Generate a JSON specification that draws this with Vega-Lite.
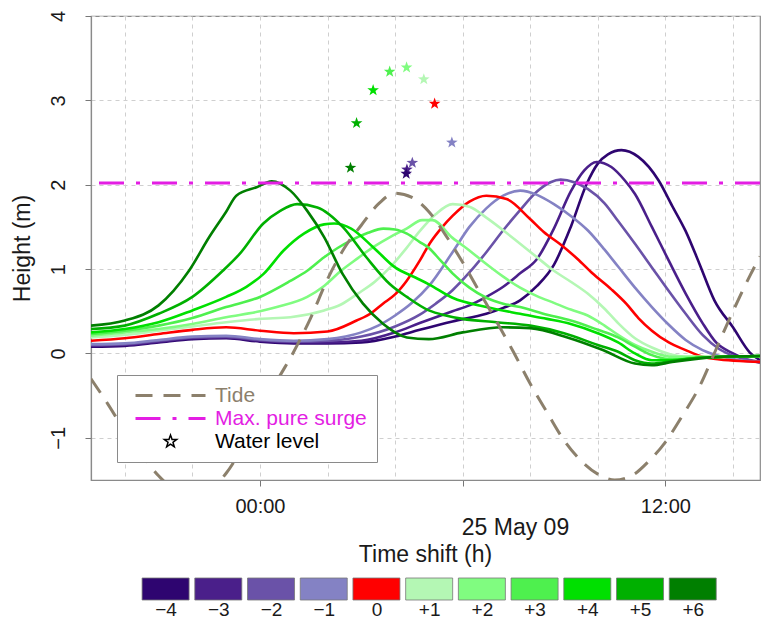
{
  "$schema": "https://vega.github.io/schema/vega-lite/v6.json",
  "padding": {"left": 10, "top": 9, "right": 0, "bottom": 0},
  "spacing": 3,
  "config": {"font": "Liberation Sans", "view": {"stroke": "#8a8a8a", "strokeWidth": 1.2}},
  "datasets": {
    "surge": [
      {"s":"−4","h":-5,"v":0.08},{"s":"−4","h":-4,"v":0.09},{"s":"−4","h":-3,"v":0.13},{"s":"−4","h":-2,"v":0.17},{"s":"−4","h":-1,"v":0.18},{"s":"−4","h":0,"v":0.14},{"s":"−4","h":1,"v":0.12},{"s":"−4","h":2,"v":0.12},{"s":"−4","h":3,"v":0.13},{"s":"−4","h":4,"v":0.2},{"s":"−4","h":4.73,"v":0.28},{"s":"−4","h":5.7,"v":0.38},{"s":"−4","h":6.7,"v":0.47},{"s":"−4","h":7.2,"v":0.54},{"s":"−4","h":7.7,"v":0.63},{"s":"−4","h":8.2,"v":0.8},{"s":"−4","h":8.7,"v":1.05},{"s":"−4","h":9.2,"v":1.5},{"s":"−4","h":9.66,"v":2.0},{"s":"−4","h":10.0,"v":2.25},{"s":"−4","h":10.3,"v":2.36},{"s":"−4","h":10.7,"v":2.41},{"s":"−4","h":11.2,"v":2.33},{"s":"−4","h":11.8,"v":2.05},{"s":"−4","h":12.2,"v":1.75},{"s":"−4","h":12.6,"v":1.45},{"s":"−4","h":13.0,"v":1.07},{"s":"−4","h":13.45,"v":0.63},{"s":"−4","h":14.0,"v":0.31},{"s":"−4","h":14.5,"v":0.01},{"s":"−4","h":14.8,"v":-0.08},
      {"s":"−3","h":-5,"v":0.09},{"s":"−3","h":-4,"v":0.1},{"s":"−3","h":-3,"v":0.14},{"s":"−3","h":-2,"v":0.18},{"s":"−3","h":-1,"v":0.19},{"s":"−3","h":0,"v":0.15},{"s":"−3","h":1,"v":0.13},{"s":"−3","h":2,"v":0.13},{"s":"−3","h":3,"v":0.15},{"s":"−3","h":4,"v":0.25},{"s":"−3","h":4.73,"v":0.36},{"s":"−3","h":5.7,"v":0.5},{"s":"−3","h":6.2,"v":0.57},{"s":"−3","h":6.7,"v":0.67},{"s":"−3","h":7.2,"v":0.79},{"s":"−3","h":7.7,"v":0.95},{"s":"−3","h":8.2,"v":1.12},{"s":"−3","h":8.7,"v":1.48},{"s":"−3","h":9.2,"v":1.92},{"s":"−3","h":9.6,"v":2.17},{"s":"−3","h":9.96,"v":2.27},{"s":"−3","h":10.4,"v":2.21},{"s":"−3","h":10.8,"v":2.05},{"s":"−3","h":11.1,"v":1.89},{"s":"−3","h":11.6,"v":1.5},{"s":"−3","h":12.1,"v":1.1},{"s":"−3","h":12.6,"v":0.71},{"s":"−3","h":13.1,"v":0.36},{"s":"−3","h":13.5,"v":0.13},{"s":"−3","h":14.0,"v":0.0},{"s":"−3","h":14.4,"v":-0.07},{"s":"−3","h":14.8,"v":-0.11},
      {"s":"−2","h":-5,"v":0.1},{"s":"−2","h":-4,"v":0.11},{"s":"−2","h":-3,"v":0.15},{"s":"−2","h":-2,"v":0.19},{"s":"−2","h":-1,"v":0.2},{"s":"−2","h":0,"v":0.16},{"s":"−2","h":1,"v":0.14},{"s":"−2","h":2,"v":0.15},{"s":"−2","h":3,"v":0.2},{"s":"−2","h":4,"v":0.32},{"s":"−2","h":4.73,"v":0.46},{"s":"−2","h":5.2,"v":0.59},{"s":"−2","h":5.7,"v":0.75},{"s":"−2","h":6.2,"v":0.96},{"s":"−2","h":6.7,"v":1.2},{"s":"−2","h":7.2,"v":1.46},{"s":"−2","h":7.7,"v":1.7},{"s":"−2","h":8.2,"v":1.92},{"s":"−2","h":8.6,"v":2.03},{"s":"−2","h":8.9,"v":2.06},{"s":"−2","h":9.3,"v":2.03},{"s":"−2","h":9.7,"v":1.95},{"s":"−2","h":10.2,"v":1.78},{"s":"−2","h":10.6,"v":1.57},{"s":"−2","h":11.1,"v":1.3},{"s":"−2","h":11.6,"v":1.02},{"s":"−2","h":12.1,"v":0.74},{"s":"−2","h":12.6,"v":0.47},{"s":"−2","h":13.1,"v":0.22},{"s":"−2","h":13.6,"v":0.05},{"s":"−2","h":14.1,"v":-0.04},{"s":"−2","h":14.8,"v":-0.1},
      {"s":"−1","h":-5,"v":0.11},{"s":"−1","h":-4,"v":0.12},{"s":"−1","h":-3,"v":0.16},{"s":"−1","h":-2,"v":0.2},{"s":"−1","h":-1,"v":0.21},{"s":"−1","h":0,"v":0.17},{"s":"−1","h":1,"v":0.15},{"s":"−1","h":2,"v":0.17},{"s":"−1","h":3,"v":0.25},{"s":"−1","h":3.5,"v":0.33},{"s":"−1","h":4,"v":0.45},{"s":"−1","h":4.5,"v":0.6},{"s":"−1","h":5.0,"v":0.8},{"s":"−1","h":5.7,"v":1.2},{"s":"−1","h":6.2,"v":1.5},{"s":"−1","h":6.7,"v":1.72},{"s":"−1","h":7.2,"v":1.87},{"s":"−1","h":7.7,"v":1.93},{"s":"−1","h":8.2,"v":1.88},{"s":"−1","h":8.7,"v":1.77},{"s":"−1","h":9.2,"v":1.63},{"s":"−1","h":9.7,"v":1.46},{"s":"−1","h":10.2,"v":1.23},{"s":"−1","h":10.6,"v":1.03},{"s":"−1","h":11.1,"v":0.78},{"s":"−1","h":11.6,"v":0.55},{"s":"−1","h":12.1,"v":0.34},{"s":"−1","h":12.6,"v":0.16},{"s":"−1","h":13.1,"v":0.04},{"s":"−1","h":13.6,"v":-0.03},{"s":"−1","h":14.2,"v":-0.08},{"s":"−1","h":14.8,"v":-0.1},
      {"s":"0","h":-5,"v":0.15},{"s":"0","h":-4,"v":0.18},{"s":"0","h":-3,"v":0.23},{"s":"0","h":-2,"v":0.28},{"s":"0","h":-1,"v":0.31},{"s":"0","h":0,"v":0.27},{"s":"0","h":1,"v":0.24},{"s":"0","h":2,"v":0.26},{"s":"0","h":2.86,"v":0.39},{"s":"0","h":3.3,"v":0.48},{"s":"0","h":3.64,"v":0.59},{"s":"0","h":4.0,"v":0.7},{"s":"0","h":4.34,"v":0.86},{"s":"0","h":4.73,"v":1.1},{"s":"0","h":5.02,"v":1.3},{"s":"0","h":5.4,"v":1.5},{"s":"0","h":5.7,"v":1.63},{"s":"0","h":6.2,"v":1.8},{"s":"0","h":6.7,"v":1.87},{"s":"0","h":7.3,"v":1.83},{"s":"0","h":7.98,"v":1.6},{"s":"0","h":8.4,"v":1.44},{"s":"0","h":8.87,"v":1.3},{"s":"0","h":9.4,"v":1.12},{"s":"0","h":9.84,"v":0.95},{"s":"0","h":10.4,"v":0.76},{"s":"0","h":10.84,"v":0.59},{"s":"0","h":11.2,"v":0.42},{"s":"0","h":11.6,"v":0.27},{"s":"0","h":12.1,"v":0.13},{"s":"0","h":12.6,"v":0.04},{"s":"0","h":13.1,"v":-0.04},{"s":"0","h":13.6,"v":-0.07},{"s":"0","h":14.2,"v":-0.09},{"s":"0","h":14.8,"v":-0.1},
      {"s":"+1","h":-5,"v":0.19},{"s":"+1","h":-4,"v":0.22},{"s":"+1","h":-3,"v":0.27},{"s":"+1","h":-2,"v":0.32},{"s":"+1","h":-1,"v":0.37},{"s":"+1","h":0,"v":0.41},{"s":"+1","h":0.9,"v":0.43},{"s":"+1","h":1.9,"v":0.51},{"s":"+1","h":2.4,"v":0.58},{"s":"+1","h":2.9,"v":0.71},{"s":"+1","h":3.4,"v":0.85},{"s":"+1","h":3.85,"v":1.02},{"s":"+1","h":4.3,"v":1.23},{"s":"+1","h":4.73,"v":1.45},{"s":"+1","h":5.2,"v":1.65},{"s":"+1","h":5.7,"v":1.77},{"s":"+1","h":6.2,"v":1.74},{"s":"+1","h":6.7,"v":1.61},{"s":"+1","h":7.2,"v":1.46},{"s":"+1","h":7.7,"v":1.3},{"s":"+1","h":8.2,"v":1.14},{"s":"+1","h":8.7,"v":0.98},{"s":"+1","h":9.2,"v":0.85},{"s":"+1","h":9.7,"v":0.71},{"s":"+1","h":10.2,"v":0.53},{"s":"+1","h":10.6,"v":0.36},{"s":"+1","h":11.1,"v":0.18},{"s":"+1","h":11.6,"v":0.07},{"s":"+1","h":12.6,"v":-0.04},{"s":"+1","h":13.6,"v":-0.04},{"s":"+1","h":14.8,"v":-0.03},
      {"s":"+2","h":-5,"v":0.21},{"s":"+2","h":-4,"v":0.25},{"s":"+2","h":-3,"v":0.29},{"s":"+2","h":-2,"v":0.35},{"s":"+2","h":-1,"v":0.43},{"s":"+2","h":0,"v":0.5},{"s":"+2","h":0.5,"v":0.55},{"s":"+2","h":1.4,"v":0.67},{"s":"+2","h":1.9,"v":0.8},{"s":"+2","h":2.4,"v":0.98},{"s":"+2","h":2.9,"v":1.13},{"s":"+2","h":3.35,"v":1.26},{"s":"+2","h":3.85,"v":1.38},{"s":"+2","h":4.34,"v":1.48},{"s":"+2","h":4.8,"v":1.58},{"s":"+2","h":5.1,"v":1.58},{"s":"+2","h":5.7,"v":1.37},{"s":"+2","h":6.2,"v":1.22},{"s":"+2","h":6.7,"v":1.06},{"s":"+2","h":7.2,"v":0.91},{"s":"+2","h":7.7,"v":0.78},{"s":"+2","h":8.2,"v":0.68},{"s":"+2","h":8.7,"v":0.6},{"s":"+2","h":9.2,"v":0.52},{"s":"+2","h":9.7,"v":0.45},{"s":"+2","h":10.2,"v":0.33},{"s":"+2","h":10.6,"v":0.22},{"s":"+2","h":11.1,"v":0.1},{"s":"+2","h":11.6,"v":0.02},{"s":"+2","h":12.2,"v":-0.04},{"s":"+2","h":13.6,"v":-0.04},{"s":"+2","h":14.8,"v":-0.03},
      {"s":"+3","h":-5,"v":0.23},{"s":"+3","h":-4,"v":0.27},{"s":"+3","h":-3,"v":0.33},{"s":"+3","h":-2,"v":0.42},{"s":"+3","h":-1,"v":0.55},{"s":"+3","h":0,"v":0.67},{"s":"+3","h":0.9,"v":0.86},{"s":"+3","h":1.4,"v":0.98},{"s":"+3","h":1.9,"v":1.14},{"s":"+3","h":2.3,"v":1.25},{"s":"+3","h":2.7,"v":1.34},{"s":"+3","h":3.2,"v":1.43},{"s":"+3","h":3.65,"v":1.48},{"s":"+3","h":4.0,"v":1.47},{"s":"+3","h":4.35,"v":1.42},{"s":"+3","h":4.73,"v":1.32},{"s":"+3","h":5.0,"v":1.25},{"s":"+3","h":5.35,"v":1.1},{"s":"+3","h":5.7,"v":0.95},{"s":"+3","h":6.2,"v":0.78},{"s":"+3","h":6.7,"v":0.66},{"s":"+3","h":7.2,"v":0.59},{"s":"+3","h":7.7,"v":0.55},{"s":"+3","h":8.5,"v":0.46},{"s":"+3","h":9.2,"v":0.39},{"s":"+3","h":10.0,"v":0.28},{"s":"+3","h":10.6,"v":0.19},{"s":"+3","h":11.1,"v":0.08},{"s":"+3","h":11.6,"v":-0.02},{"s":"+3","h":12.2,"v":-0.07},{"s":"+3","h":13.0,"v":-0.05},{"s":"+3","h":14.8,"v":-0.03},
      {"s":"+4","h":-5,"v":0.25},{"s":"+4","h":-4,"v":0.29},{"s":"+4","h":-3,"v":0.37},{"s":"+4","h":-2,"v":0.51},{"s":"+4","h":-1,"v":0.67},{"s":"+4","h":-0.4,"v":0.79},{"s":"+4","h":0.1,"v":0.94},{"s":"+4","h":0.7,"v":1.22},{"s":"+4","h":1.3,"v":1.42},{"s":"+4","h":1.9,"v":1.53},{"s":"+4","h":2.2,"v":1.54},{"s":"+4","h":2.7,"v":1.48},{"s":"+4","h":3.35,"v":1.26},{"s":"+4","h":4.0,"v":1.02},{"s":"+4","h":4.6,"v":0.9},{"s":"+4","h":5.0,"v":0.82},{"s":"+4","h":5.7,"v":0.66},{"s":"+4","h":6.7,"v":0.55},{"s":"+4","h":7.7,"v":0.47},{"s":"+4","h":8.5,"v":0.41},{"s":"+4","h":9.2,"v":0.35},{"s":"+4","h":10.0,"v":0.24},{"s":"+4","h":10.6,"v":0.13},{"s":"+4","h":11.1,"v":0.0},{"s":"+4","h":11.6,"v":-0.08},{"s":"+4","h":12.2,"v":-0.08},{"s":"+4","h":13.0,"v":-0.05},{"s":"+4","h":14.8,"v":-0.03},
      {"s":"+5","h":-5,"v":0.29},{"s":"+5","h":-4,"v":0.33},{"s":"+5","h":-3,"v":0.47},{"s":"+5","h":-2,"v":0.67},{"s":"+5","h":-1.1,"v":0.98},{"s":"+5","h":-0.6,"v":1.18},{"s":"+5","h":0.1,"v":1.54},{"s":"+5","h":0.6,"v":1.69},{"s":"+5","h":1.1,"v":1.77},{"s":"+5","h":1.7,"v":1.73},{"s":"+5","h":2.45,"v":1.5},{"s":"+5","h":3.15,"v":1.14},{"s":"+5","h":3.85,"v":0.82},{"s":"+5","h":4.35,"v":0.67},{"s":"+5","h":5.0,"v":0.51},{"s":"+5","h":5.5,"v":0.45},{"s":"+5","h":6.0,"v":0.41},{"s":"+5","h":7.0,"v":0.37},{"s":"+5","h":8.0,"v":0.33},{"s":"+5","h":9.0,"v":0.24},{"s":"+5","h":10.0,"v":0.1},{"s":"+5","h":10.6,"v":0.02},{"s":"+5","h":11.1,"v":-0.08},{"s":"+5","h":11.6,"v":-0.12},{"s":"+5","h":12.2,"v":-0.09},{"s":"+5","h":13.0,"v":-0.05},{"s":"+5","h":14.8,"v":-0.03},
      {"s":"+6","h":-5,"v":0.33},{"s":"+6","h":-4,"v":0.39},{"s":"+6","h":-3,"v":0.57},{"s":"+6","h":-2.1,"v":0.98},{"s":"+6","h":-1.5,"v":1.38},{"s":"+6","h":-1.0,"v":1.68},{"s":"+6","h":-0.7,"v":1.87},{"s":"+6","h":-0.1,"v":1.97},{"s":"+6","h":0.35,"v":2.04},{"s":"+6","h":0.9,"v":1.93},{"s":"+6","h":1.4,"v":1.69},{"s":"+6","h":1.9,"v":1.38},{"s":"+6","h":2.45,"v":0.94},{"s":"+6","h":3.05,"v":0.59},{"s":"+6","h":3.65,"v":0.35},{"s":"+6","h":4.35,"v":0.19},{"s":"+6","h":5.0,"v":0.17},{"s":"+6","h":6.0,"v":0.25},{"s":"+6","h":7.2,"v":0.31},{"s":"+6","h":8.0,"v":0.3},{"s":"+6","h":9.1,"v":0.19},{"s":"+6","h":10.15,"v":0.04},{"s":"+6","h":11.1,"v":-0.12},{"s":"+6","h":11.6,"v":-0.14},{"s":"+6","h":12.2,"v":-0.1},{"s":"+6","h":13.6,"v":-0.04},{"s":"+6","h":14.8,"v":-0.03}
    ],
    "tide": [
      {"kind":"Tide","h":-5,"v":-0.3},{"kind":"Tide","h":-4.5,"v":-0.6},{"kind":"Tide","h":-4,"v":-0.92},{"kind":"Tide","h":-3.5,"v":-1.2},{"kind":"Tide","h":-3,"v":-1.45},{"kind":"Tide","h":-2.5,"v":-1.62},{"kind":"Tide","h":-2,"v":-1.68},{"kind":"Tide","h":-1.5,"v":-1.62},{"kind":"Tide","h":-1,"v":-1.42},{"kind":"Tide","h":-0.5,"v":-1.1},{"kind":"Tide","h":0,"v":-0.72},{"kind":"Tide","h":0.5,"v":-0.33},{"kind":"Tide","h":1,"v":0.02},{"kind":"Tide","h":1.5,"v":0.42},{"kind":"Tide","h":2,"v":0.88},{"kind":"Tide","h":2.5,"v":1.25},{"kind":"Tide","h":3,"v":1.52},{"kind":"Tide","h":3.5,"v":1.77},{"kind":"Tide","h":4,"v":1.9},{"kind":"Tide","h":4.5,"v":1.85},{"kind":"Tide","h":5,"v":1.68},{"kind":"Tide","h":5.5,"v":1.4},{"kind":"Tide","h":6,"v":1.08},{"kind":"Tide","h":6.5,"v":0.73},{"kind":"Tide","h":7,"v":0.38},{"kind":"Tide","h":7.5,"v":0.02},{"kind":"Tide","h":8,"v":-0.36},{"kind":"Tide","h":8.5,"v":-0.7},{"kind":"Tide","h":9,"v":-1.03},{"kind":"Tide","h":9.5,"v":-1.27},{"kind":"Tide","h":10,"v":-1.43},{"kind":"Tide","h":10.5,"v":-1.5},{"kind":"Tide","h":11,"v":-1.45},{"kind":"Tide","h":11.5,"v":-1.28},{"kind":"Tide","h":12,"v":-1.05},{"kind":"Tide","h":12.5,"v":-0.74},{"kind":"Tide","h":13,"v":-0.4},{"kind":"Tide","h":13.5,"v":0.05},{"kind":"Tide","h":14,"v":0.5},{"kind":"Tide","h":14.5,"v":0.92},{"kind":"Tide","h":14.8,"v":1.15}
    ],
    "stars": [
      {"s":"+6","h":2.68,"v":2.2},{"s":"+5","h":2.86,"v":2.73},{"s":"+4","h":3.35,"v":3.12},{"s":"+3","h":3.84,"v":3.34},{"s":"+2","h":4.34,"v":3.39},{"s":"+1","h":4.85,"v":3.25},{"s":"0","h":5.17,"v":2.96},{"s":"−1","h":5.68,"v":2.5},{"s":"−2","h":4.51,"v":2.26},{"s":"−3","h":4.35,"v":2.18},{"s":"−4","h":4.33,"v":2.13}
    ],
    "maxsurge": [{"kind":"Max. pure surge","v":2.02}],
    "key": [{"k":1,"s":"−4"},{"k":2,"s":"−3"},{"k":3,"s":"−2"},{"k":4,"s":"−1"},{"k":5,"s":"0"},{"k":6,"s":"+1"},{"k":7,"s":"+2"},{"k":8,"s":"+3"},{"k":9,"s":"+4"},{"k":10,"s":"+5"},{"k":11,"s":"+6"}]
  },
  "vconcat": [
    {
      "width": 669,
      "height": 464,
      "encoding": {
        "x": {"field": "h", "type": "quantitative"},
        "y": {"field": "v", "type": "quantitative"}
      },
      "layer": [
        {"data": {"name": "surge"}, "transform": [{"filter": "datum.s === '−4'"}], "mark": {"type": "line", "color": "#2e0570", "strokeWidth": 2.6, "interpolate": "monotone", "clip": true},
          "encoding": {
            "x": {"field": "h", "type": "quantitative",
              "scale": {"domain": [-5, 14.8], "nice": false, "zero": false},
              "axis": {"values": [-4,-2,0,2,4,6,8,10,12,14], "labelExpr": "datum.value === 0 ? '00:00' : datum.value === 12 ? '12:00' : ''",
                "tickOpacity": {"condition": {"test": "datum.value % 6 === 0", "value": 1}, "value": 0},
                "tickSize": 6, "tickColor": "#777", "domainColor": "#8a8a8a", "domainWidth": 1.2,
                "grid": true, "gridColor": "#cfcfcf", "gridDash": [4, 4],
                "labelFontSize": 20, "labelColor": "#1a1a1a", "labelPadding": 10, "labelFlush": false,
                "title": "25 May 09", "titleFontSize": 23, "titleFontWeight": "normal", "titleColor": "#1a1a1a",
                "titleX": 424, "titleY": 36, "titleBaseline": "top"}},
            "y": {"field": "v", "type": "quantitative",
              "scale": {"domain": [-1.5, 4], "nice": false, "zero": false},
              "axis": {"values": [-1,0,1,2,3,4], "format": "d", "labelAngle": -90,
                "tickSize": 6, "tickColor": "#777", "domainColor": "#8a8a8a", "domainWidth": 1.2,
                "grid": true, "gridColor": "#cfcfcf", "gridDash": [4, 4],
                "labelFontSize": 20, "labelColor": "#1a1a1a", "labelPadding": 17,
                "title": "Height (m)", "titleFontSize": 23, "titleFontWeight": "normal", "titleColor": "#1a1a1a", "titlePadding": 14}}
          }},
        {"data": {"name": "surge"}, "transform": [{"filter": "datum.s === '−3'"}], "mark": {"type": "line", "color": "#4a1f8a", "strokeWidth": 2.6, "interpolate": "monotone", "clip": true}},
        {"data": {"name": "surge"}, "transform": [{"filter": "datum.s === '−2'"}], "mark": {"type": "line", "color": "#6a52a8", "strokeWidth": 2.6, "interpolate": "monotone", "clip": true}},
        {"data": {"name": "surge"}, "transform": [{"filter": "datum.s === '−1'"}], "mark": {"type": "line", "color": "#8482c4", "strokeWidth": 2.6, "interpolate": "monotone", "clip": true}},
        {"data": {"name": "surge"}, "transform": [{"filter": "datum.s === '0'"}], "mark": {"type": "line", "color": "#ff0000", "strokeWidth": 2.6, "interpolate": "monotone", "clip": true}},
        {"data": {"name": "surge"}, "transform": [{"filter": "datum.s === '+1'"}], "mark": {"type": "line", "color": "#b4f7b4", "strokeWidth": 2.6, "interpolate": "monotone", "clip": true}},
        {"data": {"name": "surge"}, "transform": [{"filter": "datum.s === '+2'"}], "mark": {"type": "line", "color": "#80fc80", "strokeWidth": 2.6, "interpolate": "monotone", "clip": true}},
        {"data": {"name": "surge"}, "transform": [{"filter": "datum.s === '+3'"}], "mark": {"type": "line", "color": "#4ef04e", "strokeWidth": 2.6, "interpolate": "monotone", "clip": true}},
        {"data": {"name": "surge"}, "transform": [{"filter": "datum.s === '+4'"}], "mark": {"type": "line", "color": "#00e000", "strokeWidth": 2.6, "interpolate": "monotone", "clip": true}},
        {"data": {"name": "surge"}, "transform": [{"filter": "datum.s === '+5'"}], "mark": {"type": "line", "color": "#00b000", "strokeWidth": 2.6, "interpolate": "monotone", "clip": true}},
        {"data": {"name": "surge"}, "transform": [{"filter": "datum.s === '+6'"}], "mark": {"type": "line", "color": "#007f00", "strokeWidth": 2.6, "interpolate": "monotone", "clip": true}},
        {"data": {"name": "tide"}, "mark": {"type": "line", "strokeWidth": 3, "interpolate": "monotone", "clip": true},
          "encoding": {
            "stroke": {"field": "kind", "type": "nominal",
              "scale": {"domain": ["Tide", "Max. pure surge", "Water level"], "range": ["#8c806c", "#e31ee3", "#000000"]},
              "legend": {"orient": "none", "legendX": 26, "legendY": 359, "title": null,
                "fillColor": "white", "strokeColor": "#8a8a8a", "padding": 10,
                "labelFontSize": 21, "labelOffset": 34, "symbolOffset": 33, "rowPadding": 1, "labelLimit": 400,
                "symbolType": "stroke", "symbolSize": 4900, "symbolStrokeWidth": 3,
                "encode": {
                  "symbols": {"update": {
                    "shape": {"signal": "datum.value === 'Water level' ? 'M0,-1L0.235,-0.324L0.951,-0.309L0.38,0.124L0.588,0.809L0,0.4L-0.588,0.809L-0.38,0.124L-0.951,-0.309L-0.235,-0.324Z' : 'stroke'"},
                    "size": {"signal": "datum.value === 'Water level' ? 170 : 4900"},
                    "strokeWidth": {"signal": "datum.value === 'Water level' ? 1.5 : 3"}}},
                  "labels": {"update": {
                    "fill": {"signal": "datum.value === 'Tide' ? '#8c806c' : datum.value === 'Max. pure surge' ? '#e31ee3' : '#000000'"}}}
                }}},
            "strokeDash": {"field": "kind", "type": "nominal",
              "scale": {"domain": ["Tide", "Max. pure surge", "Water level"], "range": [[17, 11], [25, 12, 4, 12], [1, 0]]}}
          }},
        {"data": {"name": "maxsurge"}, "mark": {"type": "rule", "strokeWidth": 3},
          "encoding": {"x": null, "y": {"field": "v", "type": "quantitative"},
            "stroke": {"field": "kind", "type": "nominal"},
            "strokeDash": {"field": "kind", "type": "nominal"}}},
        {"data": {"name": "stars"}, "transform": [{"filter": "datum.s === '+6'"}], "mark": {"type": "point", "shape": "M0,-1L0.235,-0.324L0.951,-0.309L0.38,0.124L0.588,0.809L0,0.4L-0.588,0.809L-0.38,0.124L-0.951,-0.309L-0.235,-0.324Z", "filled": true, "size": 150, "opacity": 1, "color": "#007f00"}},
        {"data": {"name": "stars"}, "transform": [{"filter": "datum.s === '+5'"}], "mark": {"type": "point", "shape": "M0,-1L0.235,-0.324L0.951,-0.309L0.38,0.124L0.588,0.809L0,0.4L-0.588,0.809L-0.38,0.124L-0.951,-0.309L-0.235,-0.324Z", "filled": true, "size": 150, "opacity": 1, "color": "#00b000"}},
        {"data": {"name": "stars"}, "transform": [{"filter": "datum.s === '+4'"}], "mark": {"type": "point", "shape": "M0,-1L0.235,-0.324L0.951,-0.309L0.38,0.124L0.588,0.809L0,0.4L-0.588,0.809L-0.38,0.124L-0.951,-0.309L-0.235,-0.324Z", "filled": true, "size": 150, "opacity": 1, "color": "#00e000"}},
        {"data": {"name": "stars"}, "transform": [{"filter": "datum.s === '+3'"}], "mark": {"type": "point", "shape": "M0,-1L0.235,-0.324L0.951,-0.309L0.38,0.124L0.588,0.809L0,0.4L-0.588,0.809L-0.38,0.124L-0.951,-0.309L-0.235,-0.324Z", "filled": true, "size": 150, "opacity": 1, "color": "#4ef04e"}},
        {"data": {"name": "stars"}, "transform": [{"filter": "datum.s === '+2'"}], "mark": {"type": "point", "shape": "M0,-1L0.235,-0.324L0.951,-0.309L0.38,0.124L0.588,0.809L0,0.4L-0.588,0.809L-0.38,0.124L-0.951,-0.309L-0.235,-0.324Z", "filled": true, "size": 150, "opacity": 1, "color": "#80fc80"}},
        {"data": {"name": "stars"}, "transform": [{"filter": "datum.s === '+1'"}], "mark": {"type": "point", "shape": "M0,-1L0.235,-0.324L0.951,-0.309L0.38,0.124L0.588,0.809L0,0.4L-0.588,0.809L-0.38,0.124L-0.951,-0.309L-0.235,-0.324Z", "filled": true, "size": 150, "opacity": 1, "color": "#b4f7b4"}},
        {"data": {"name": "stars"}, "transform": [{"filter": "datum.s === '0'"}], "mark": {"type": "point", "shape": "M0,-1L0.235,-0.324L0.951,-0.309L0.38,0.124L0.588,0.809L0,0.4L-0.588,0.809L-0.38,0.124L-0.951,-0.309L-0.235,-0.324Z", "filled": true, "size": 150, "opacity": 1, "color": "#ff0000"}},
        {"data": {"name": "stars"}, "transform": [{"filter": "datum.s === '−1'"}], "mark": {"type": "point", "shape": "M0,-1L0.235,-0.324L0.951,-0.309L0.38,0.124L0.588,0.809L0,0.4L-0.588,0.809L-0.38,0.124L-0.951,-0.309L-0.235,-0.324Z", "filled": true, "size": 150, "opacity": 1, "color": "#8482c4"}},
        {"data": {"name": "stars"}, "transform": [{"filter": "datum.s === '−2'"}], "mark": {"type": "point", "shape": "M0,-1L0.235,-0.324L0.951,-0.309L0.38,0.124L0.588,0.809L0,0.4L-0.588,0.809L-0.38,0.124L-0.951,-0.309L-0.235,-0.324Z", "filled": true, "size": 150, "opacity": 1, "color": "#6a52a8"}},
        {"data": {"name": "stars"}, "transform": [{"filter": "datum.s === '−3'"}], "mark": {"type": "point", "shape": "M0,-1L0.235,-0.324L0.951,-0.309L0.38,0.124L0.588,0.809L0,0.4L-0.588,0.809L-0.38,0.124L-0.951,-0.309L-0.235,-0.324Z", "filled": true, "size": 150, "opacity": 1, "color": "#4a1f8a"}},
        {"data": {"name": "stars"}, "transform": [{"filter": "datum.s === '−4'"}], "mark": {"type": "point", "shape": "M0,-1L0.235,-0.324L0.951,-0.309L0.38,0.124L0.588,0.809L0,0.4L-0.588,0.809L-0.38,0.124L-0.951,-0.309L-0.235,-0.324Z", "filled": true, "size": 150, "opacity": 1, "color": "#2e0570"}}
      ]
    },
    {
      "width": 669,
      "height": 22,
      "view": {"stroke": null},
      "data": {"name": "key"},
      "title": {"text": "Time shift (h)", "fontSize": 23, "fontWeight": "normal", "color": "#1a1a1a", "offset": 11},
      "encoding": {
        "x": {"field": "k", "type": "quantitative"}
      },
      "layer": [
        {"transform": [{"filter": "datum.k === 1"}], "mark": {"type": "tick", "orient": "vertical", "thickness": 47, "size": 22, "color": "#2e0570", "stroke": "#777", "strokeWidth": 0.8, "opacity": 1},
         "encoding": {"x": {"field": "k", "type": "quantitative", "scale": {"domain": [-0.415, 12.276], "nice": false, "zero": false},
           "axis": {"values": [1,2,3,4,5,6,7,8,9,10,11], "labelExpr": "['−4','−3','−2','−1','0','+1','+2','+3','+4','+5','+6'][datum.value - 1]",
             "title": null, "domain": false, "ticks": false, "grid": false, "labelFontSize": 19, "labelColor": "#1a1a1a", "labelPadding": 0, "labelFlush": false}}}},
        {"transform": [{"filter": "datum.k === 2"}], "mark": {"type": "tick", "orient": "vertical", "thickness": 47, "size": 22, "color": "#4a1f8a", "stroke": "#777", "strokeWidth": 0.8, "opacity": 1}},
        {"transform": [{"filter": "datum.k === 3"}], "mark": {"type": "tick", "orient": "vertical", "thickness": 47, "size": 22, "color": "#6a52a8", "stroke": "#777", "strokeWidth": 0.8, "opacity": 1}},
        {"transform": [{"filter": "datum.k === 4"}], "mark": {"type": "tick", "orient": "vertical", "thickness": 47, "size": 22, "color": "#8482c4", "stroke": "#777", "strokeWidth": 0.8, "opacity": 1}},
        {"transform": [{"filter": "datum.k === 5"}], "mark": {"type": "tick", "orient": "vertical", "thickness": 47, "size": 22, "color": "#ff0000", "stroke": "#777", "strokeWidth": 0.8, "opacity": 1}},
        {"transform": [{"filter": "datum.k === 6"}], "mark": {"type": "tick", "orient": "vertical", "thickness": 47, "size": 22, "color": "#b4f7b4", "stroke": "#777", "strokeWidth": 0.8, "opacity": 1}},
        {"transform": [{"filter": "datum.k === 7"}], "mark": {"type": "tick", "orient": "vertical", "thickness": 47, "size": 22, "color": "#80fc80", "stroke": "#777", "strokeWidth": 0.8, "opacity": 1}},
        {"transform": [{"filter": "datum.k === 8"}], "mark": {"type": "tick", "orient": "vertical", "thickness": 47, "size": 22, "color": "#4ef04e", "stroke": "#777", "strokeWidth": 0.8, "opacity": 1}},
        {"transform": [{"filter": "datum.k === 9"}], "mark": {"type": "tick", "orient": "vertical", "thickness": 47, "size": 22, "color": "#00e000", "stroke": "#777", "strokeWidth": 0.8, "opacity": 1}},
        {"transform": [{"filter": "datum.k === 10"}], "mark": {"type": "tick", "orient": "vertical", "thickness": 47, "size": 22, "color": "#00b000", "stroke": "#777", "strokeWidth": 0.8, "opacity": 1}},
        {"transform": [{"filter": "datum.k === 11"}], "mark": {"type": "tick", "orient": "vertical", "thickness": 47, "size": 22, "color": "#007f00", "stroke": "#777", "strokeWidth": 0.8, "opacity": 1}}
      ]
    }
  ]
}
